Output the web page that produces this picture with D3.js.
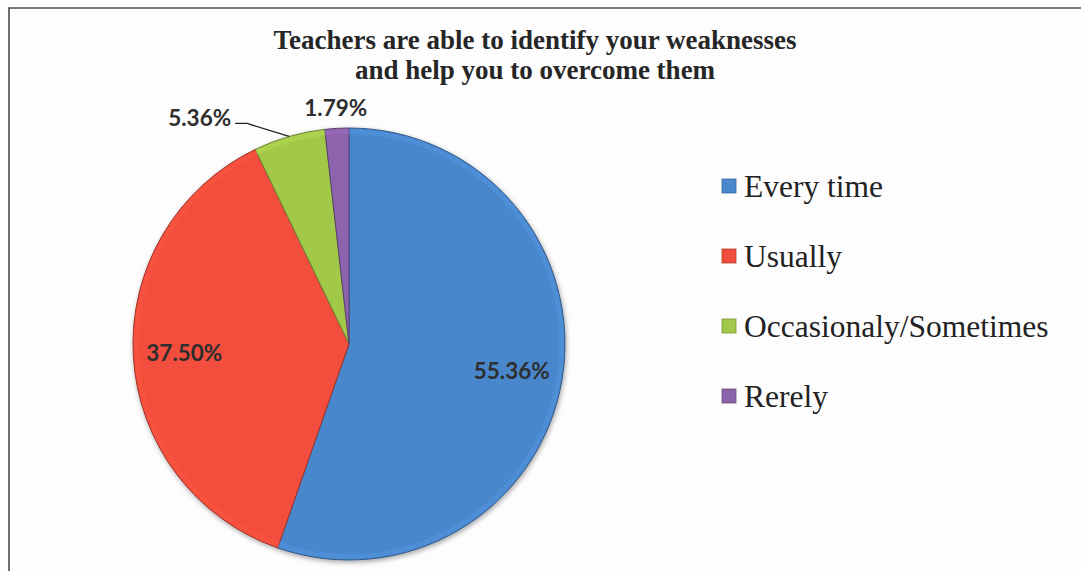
<!DOCTYPE html>
<html>
<head>
<meta charset="utf-8">
<script src="https://cdn.jsdelivr.net/npm/d3@7"></script>
<style>
  body { margin: 0; background: #fdfdfd; }
  svg { display: block; }
</style>
</head>
<body>
<div id="chart"></div>
<script>
// chart data
const categories = ['Every time', 'Usually', 'Occasionaly/Sometimes', 'Rerely'];
const values = [55.36, 37.50, 5.36, 1.79];
const labels = ['55.36%', '37.50%', '5.36%', '1.79%'];
const colors = ['#4a87cc', '#f24d3c', '#a2c84a', '#8c64ac'];
const titleLines = ['Teachers are able to identify your weaknesses', 'and help you to overcome them'];

const width = 1081, height = 571;
const cx = 349, cy = 344, radius = 216;

const svg = d3.select('#chart')
    .append('svg')
    .attr('width', width)
    .attr('height', height);

// frame (right and bottom edges fall outside the picture)
svg.append('path')
    .attr('d', `M9,${height + 5} L9,8 L${width + 5},8`)
    .attr('fill', 'none')
    .attr('stroke', '#4a4a4a')
    .attr('stroke-width', 1.6);

// title
svg.append('g').selectAll('text')
    .data(titleLines)
    .enter()
    .append('text')
    .attr('x', 535)
    .attr('y', (d, i) => 49 + i * 30)
    .attr('text-anchor', 'middle')
    .style('font-family', '"Liberation Serif", "Times New Roman", serif')
    .style('font-weight', 'bold')
    .style('font-size', '27px')
    .style('fill', '#262626')
    .text(d => d);

const data = categories.map((c, i) => ({name: c, value: values[i], label: labels[i], color: colors[i]}));

const pie = d3.pie()
    .sort(null)
    .value(d => d.value);

const arc = d3.arc().innerRadius(0).outerRadius(radius);
const labelArc = d3.arc().innerRadius(165).outerRadius(165);
const edgeArc = d3.arc().innerRadius(radius).outerRadius(radius);
const outerArc = d3.arc().innerRadius(236).outerRadius(236);

const defs = svg.append('defs');
const shadow = defs.append('filter').attr('id', 'shadow')
    .attr('x', '-10%').attr('y', '-10%').attr('width', '120%').attr('height', '120%');
shadow.append('feGaussianBlur').attr('in', 'SourceAlpha').attr('stdDeviation', 2.5);
shadow.append('feOffset').attr('dx', 1).attr('dy', 2).attr('result', 'b');
shadow.append('feComponentTransfer').append('feFuncA').attr('type', 'linear').attr('slope', 0.35);
const merge = shadow.append('feMerge');
merge.append('feMergeNode');
merge.append('feMergeNode').attr('in', 'SourceGraphic');

const g = svg.append('g')
    .attr('transform', `translate(${cx},${cy})`);

const arcs = pie(data);

g.append('g')
    .attr('filter', 'url(#shadow)')
    .selectAll('path')
    .data(arcs)
    .enter()
    .append('path')
    .attr('d', arc)
    .attr('fill', d => d.data.color)
    .attr('stroke', d => d3.color(d.data.color).darker(1.2))
    .attr('stroke-width', 1);

// subtle bevel highlight along the rim
g.append('g')
    .selectAll('path')
    .data(arcs)
    .enter()
    .append('path')
    .attr('d', d3.arc().innerRadius(radius - 6).outerRadius(radius - 1))
    .attr('fill', d => d3.color(d.data.color).brighter(0.35))
    .attr('opacity', 0.4);

const labelStyle = sel => sel
    .style('font-family', 'Lato, "Open Sans", sans-serif')
    .style('font-weight', 'bold')
    .style('font-size', '22.5px')
    .style('fill', '#2e2e2e');

// big slices: labels inside
g.append('g')
    .selectAll('text')
    .data(arcs.filter(d => d.data.value > 10))
    .enter()
    .append('text')
    .attr('transform', d => `translate(${labelArc.centroid(d)})`)
    .attr('dy', '0.35em')
    .attr('text-anchor', 'middle')
    .call(labelStyle)
    .text(d => d.data.label);

// small slices: labels outside
const green = arcs[2], purple = arcs[3];
const gEdge = edgeArc.centroid(green);
g.append('polyline')
    .attr('points', [gEdge, [gEdge[0] - 42, gEdge[1] - 13], [gEdge[0] - 54, gEdge[1] - 13]].map(p => p.join(',')).join(' '))
    .attr('fill', 'none')
    .attr('stroke', '#222')
    .attr('stroke-width', 1.3);
g.append('text')
    .attr('x', gEdge[0] - 58)
    .attr('y', gEdge[1] - 18)
    .attr('dy', '0.35em')
    .attr('text-anchor', 'end')
    .call(labelStyle)
    .text(green.data.label);

const pPos = outerArc.centroid(purple);
g.append('text')
    .attr('x', pPos[0])
    .attr('y', pPos[1])
    .attr('dy', '0.35em')
    .attr('text-anchor', 'middle')
    .call(labelStyle)
    .text(purple.data.label);

// legend
const legend = svg.append('g')
    .selectAll('g')
    .data(data)
    .enter()
    .append('g')
    .attr('transform', (d, i) => `translate(722,${186 + i * 70})`);

legend.append('rect')
    .attr('x', 0)
    .attr('y', -7)
    .attr('width', 14)
    .attr('height', 14)
    .attr('fill', d => d.color)
    .attr('stroke', d => d3.color(d.color).darker(0.8))
    .attr('stroke-width', 0.8);

legend.append('text')
    .attr('x', 22)
    .attr('y', 0)
    .attr('dy', '0.35em')
    .style('font-family', '"Liberation Serif", "Times New Roman", serif')
    .style('font-size', '31.5px')
    .style('fill', '#222')
    .text(d => d.name);
</script>
</body>
</html>
